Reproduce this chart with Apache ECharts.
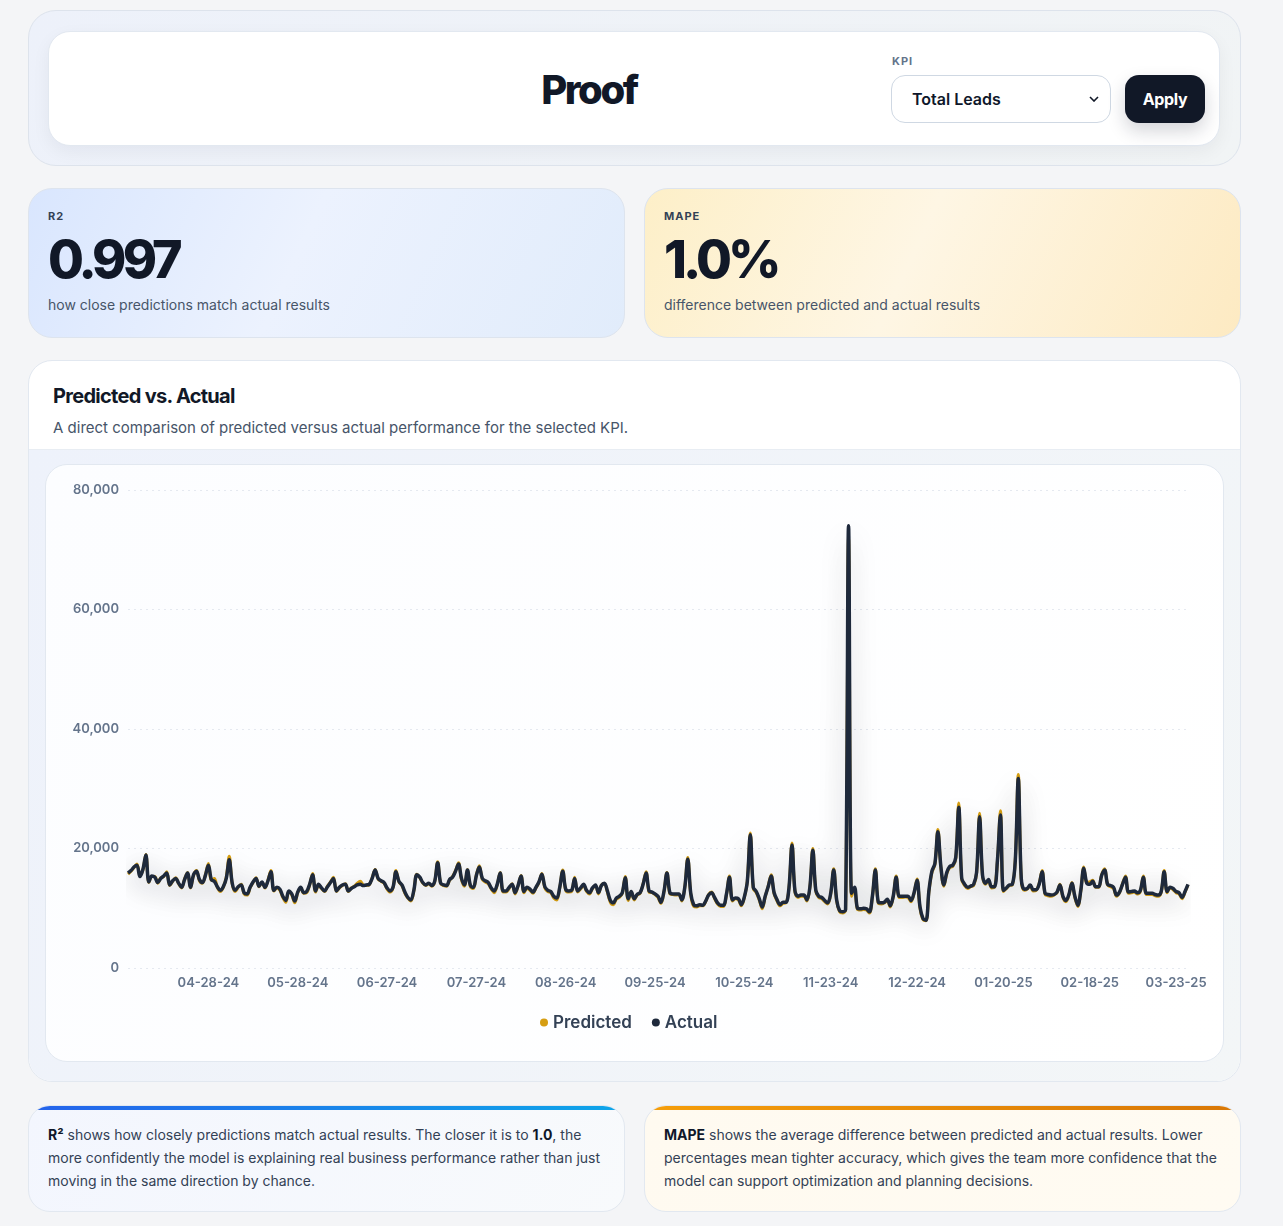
<!DOCTYPE html>
<html>
<head>
<meta charset="utf-8">
<title>Proof</title>
<script src="https://cdn.jsdelivr.net/npm/echarts@6/dist/echarts.min.js"></script>
<style>
* { box-sizing: border-box; }
body {
    margin: 0;
    background: #f4f5f7;
    font-family: Inter, "Noto Sans", sans-serif;
    color: #0f172a;
}
.page {
    width: 1213px;
    margin-left: 28px;
    padding-top: 10px;
}
.hero {
    height: 156px;
    border: 1px solid #dde3ec;
    border-radius: 28px;
    background: linear-gradient(120deg, #edf1fa, #f1f4f5);
    padding: 20px 20px 19px 19px;
}
.hero-inner {
    position: relative;
    height: 115px;
    background: #fff;
    border: 1px solid #e2e8f0;
    border-radius: 22px;
    box-shadow: 0 6px 18px rgba(15, 23, 42, 0.05);
}
.hero h1 {
    position: absolute;
    left: 0;
    width: 1080px;
    top: 38px;
    margin: 0;
    text-align: center;
    font-size: 40px;
    line-height: 40px;
    font-weight: 800;
    letter-spacing: -0.06em;
    color: #111827;
}
.kpi-label {
    position: absolute;
    left: 843px;
    top: 22px;
    font-size: 11px;
    font-weight: 700;
    letter-spacing: 1px;
    color: #64748b;
}
.hero select {
    position: absolute;
    left: 842px;
    top: 43px;
    width: 220px;
    height: 48px;
    border: 1px solid #cfd8e3;
    border-radius: 14px;
    background: #fff url("data:image/svg+xml;utf8,<svg xmlns='http://www.w3.org/2000/svg' width='10' height='6'><path d='M1 1l4 4 4-4' fill='none' stroke='%23111827' stroke-width='1.6'/></svg>") no-repeat right 11px center;
    -webkit-appearance: none;
    appearance: none;
    padding-left: 20px;
    font-family: Inter, sans-serif;
    font-size: 16px;
    font-weight: 600;
    color: #0f172a;
}
.hero button {
    position: absolute;
    left: 1076px;
    top: 43px;
    width: 80px;
    height: 48px;
    border: 0;
    border-radius: 14px;
    background: #111827;
    color: #fff;
    font-family: Inter, sans-serif;
    font-size: 16px;
    font-weight: 700;
    letter-spacing: -0.02em;
    box-shadow: 0 8px 18px rgba(15, 23, 42, 0.18);
}
.row {
    display: flex;
    gap: 19px;
}
.kpi {
    flex: 1;
    height: 150px;
    margin-top: 22px;
    border: 1px solid #dde4ee;
    border-radius: 24px;
    padding: 20px 19px 0 19px;
}
.kpi.blue { background: linear-gradient(115deg, #d9e6fe 0%, #ecf2fe 45%, #e1ecfb 100%); }
.kpi.gold { background: linear-gradient(115deg, #fdefc8 0%, #fef6e4 45%, #fdeac2 100%); }
.kpi .lab {
    font-size: 11px;
    line-height: 14px;
    font-weight: 700;
    letter-spacing: 1px;
    color: #334155;
}
.kpi .val {
    margin-top: 10px;
    font-size: 52px;
    line-height: 54px;
    font-weight: 800;
    letter-spacing: -0.075em;
    color: #111827;
}
.kpi .sub {
    margin-top: 8px;
    font-size: 14px;
    line-height: 20px;
    color: #475569;
}
.chart-card {
    height: 722px;
    margin-top: 22px;
    background: #fff;
    border: 1px solid #e2e8f0;
    border-radius: 24px;
    overflow: hidden;
}
.chart-head {
    height: 89px;
    padding: 23px 24px 0 24px;
    border-bottom: 1px solid #e8edf3;
}
.chart-head h2 {
    margin: 0;
    font-size: 20px;
    line-height: 24px;
    font-weight: 700;
    letter-spacing: -0.035em;
    color: #111827;
}
.chart-head p {
    margin: 10px 0 0 0;
    font-size: 15px;
    line-height: 20px;
    color: #475569;
}
.chart-body {
    height: 632px;
    padding: 14px 16px 0 16px;
    background: linear-gradient(120deg, #eef2fb, #f3f6f7);
}
#main {
    width: 1179px;
    height: 598px;
    border: 1px solid #e2e8f0;
    border-radius: 22px;
    background: linear-gradient(120deg, #fcfdff, #ffffff);
    overflow: hidden;
}
.note {
    position: relative;
    flex: 1;
    height: 107px;
    margin-top: 23px;
    border: 1px solid #e2e8f0;
    border-radius: 22px;
    overflow: hidden;
    padding: 17px 20px 0 19px;
    font-size: 14px;
    line-height: 23px;
    color: #334155;
}
.note::before {
    content: "";
    position: absolute;
    left: 0; right: 0; top: 0;
    height: 4px;
}
.note.blue { background: linear-gradient(120deg, #f3f6fe, #f8fafc); }
.note.blue::before { background: linear-gradient(90deg, #2563eb, #0ea5e9); }
.note.gold { background: linear-gradient(120deg, #fffaf0, #fffbf2); }
.note.gold::before { background: linear-gradient(90deg, #f59e0b, #d97706); }
.note b { color: #0f172a; font-weight: 700; }
</style>
</head>
<body>
<div class="page">
    <div class="hero">
        <div class="hero-inner">
            <h1>Proof</h1>
            <div class="kpi-label">KPI</div>
            <select><option>Total Leads</option></select>
            <button>Apply</button>
        </div>
    </div>

    <div class="row">
        <div class="kpi blue">
            <div class="lab">R2</div>
            <div class="val">0.997</div>
            <div class="sub">how close predictions match actual results</div>
        </div>
        <div class="kpi gold">
            <div class="lab">MAPE</div>
            <div class="val">1.0%</div>
            <div class="sub">difference between predicted and actual results</div>
        </div>
    </div>

    <div class="chart-card">
        <div class="chart-head">
            <h2>Predicted vs. Actual</h2>
            <p>A direct comparison of predicted versus actual performance for the selected KPI.</p>
        </div>
        <div class="chart-body">
            <div id="main"></div>
        </div>
    </div>

    <div class="row">
        <div class="note blue">
            <b>R²</b> shows how closely predictions match actual results. The closer it is to <b>1.0</b>, the more confidently the model is explaining real business performance rather than just moving in the same direction by chance.
        </div>
        <div class="note gold">
            <b>MAPE</b> shows the average difference between predicted and actual results. Lower percentages mean tighter accuracy, which gives the team more confidence that the model can support optimization and planning decisions.
        </div>
    </div>
</div>

<script>
// daily series, first day 04-01-24, a few days missing in the data
const skippedDates = ['02-25-25', '03-04-25', '03-11-25', '03-18-25']
const xTickLabels = ['04-28-24', '05-28-24', '06-27-24', '07-27-24', '08-26-24', '09-25-24',
    '10-25-24', '11-23-24', '12-22-24', '01-20-25', '02-18-25', '03-23-25']

const actual = [
    15900, 16300, 16900, 17200, 15300, 16500, 18900, 14400, 15400, 15200,
    14300, 15000, 15400, 15900, 13900, 14600, 15000, 14200, 13500, 14800,
    15900, 13500, 15600, 16200, 14800, 14300, 15500, 17200, 14800, 14500,
    13600, 13000, 13600, 15000, 18100, 14200, 13000, 13600, 13900, 12600,
    12400, 13500, 14400, 15000, 13700, 14400, 13500, 14600, 16100, 13000,
    13500, 13200, 12000, 11300, 12900, 12400, 11200, 12700, 13500, 12600,
    12800, 14000, 15600, 12900, 14000, 13400, 12900, 13600, 14300, 15000,
    12900, 13500, 13900, 14000, 12900, 13300, 13600, 13900, 14000, 13800,
    13900, 14000, 15000, 16400, 15000, 14600, 14300, 13400, 12900, 13500,
    16100, 14500, 13900, 12700, 11800, 11400, 13000, 15600, 15200, 14300,
    13900, 14200, 13800, 14500, 17600, 14200, 13900, 13800, 14800, 15200,
    16200, 17400, 15000, 13900, 16400, 13800, 13500, 15500, 16900, 15000,
    14600, 14300, 13400, 12900, 14000, 15900, 12900, 12900, 13500, 14000,
    12600, 13800, 15400, 12800, 13500, 13200, 12700, 13500, 14400, 15700,
    13600, 13000, 12800, 12000, 11700, 13500, 16200, 13200, 12900, 13000,
    15000, 12900, 13400, 14000, 13000, 12600, 13400, 13900, 12600, 13800,
    14200, 12900, 11300, 10900, 11700, 12000, 12600, 15100, 11600, 12800,
    11600, 12300, 12600, 14000, 15900, 12900, 12700, 12400, 12000, 11000,
    12800, 15900, 12600, 12400, 12400, 12400, 11400, 13500, 18200, 12500,
    10600, 10400, 10600, 10500, 11200, 12200, 12600, 11800, 10900, 10500,
    10500, 12400, 15200, 11400, 11700, 11600, 10600, 11900, 14500, 22300,
    13500, 12800, 11600, 10200, 12000, 13600, 15400, 12600, 11400, 10600,
    11000, 11000, 13500, 20600, 12900, 12000, 12200, 12200, 11400, 13500,
    19700, 13000, 12000, 11800, 11300, 10900, 12500, 16400, 11400, 9600,
    9400, 9800, 74000, 12500, 13500, 10000, 9900, 10000, 9900, 9400,
    12000, 16400, 11000, 10900, 11000, 11500, 10400, 12000, 15200, 12000,
    12000, 12000, 12000, 11300, 12600, 14700, 10200, 8300, 8000, 13000,
    16200, 17500, 22800, 17000, 13900, 16000, 17000, 17200, 18500, 26900,
    15000, 14000, 13500, 13700, 14000, 16000, 25300, 15500, 14200, 14800,
    13600, 13600, 18000, 25600, 13000, 13400, 13900, 14000, 18000, 31700,
    15000, 13200, 13300, 13900, 13100, 13100, 14000, 16100, 12500, 12300,
    12200, 12300, 12700, 13900, 12000, 11300, 12300, 14200, 12000, 10500,
    13000, 16700, 14200, 14000, 14500, 13600, 13600, 15500, 16400, 14000,
    13800, 13500, 12200, 12700, 14000, 15200, 12700, 12800, 12900, 12600,
    13000, 15200, 12500, 12500, 12500, 12300, 12200, 12800, 16100, 12800,
    13500, 13300, 12800, 12600, 11800, 12800, 14000
]

const predicted = [
    15700, 16200, 16800, 17400, 15500, 16400, 19000, 14300, 15300, 15300,
    14200, 15100, 15300, 16100, 13800, 14500, 15100, 14100, 13400, 14900,
    16000, 13400, 15500, 16300, 14600, 14200, 15600, 17500, 14700, 15000,
    13500, 12800, 13500, 15200, 18700, 14100, 12800, 13500, 14000, 12400,
    12200, 13400, 14300, 15100, 13600, 14300, 13400, 14700, 16300, 12900,
    13400, 13000, 11800, 11000, 12800, 12200, 10900, 12600, 13400, 12500,
    12600, 13900, 15800, 12700, 13900, 13300, 12800, 13700, 14400, 15200,
    12800, 13400, 13800, 14100, 12800, 13400, 13700, 14200, 14500, 13900,
    13800, 13900, 15100, 16500, 14900, 14500, 14200, 13200, 12700, 13400,
    16300, 14400, 13800, 12500, 11700, 11200, 12900, 15700, 15100, 14200,
    13800, 14100, 13700, 14400, 17800, 14100, 13800, 13700, 14700, 15300,
    16300, 17600, 14800, 13700, 16500, 13600, 13300, 15600, 17100, 14800,
    14400, 14100, 13200, 12600, 13900, 16000, 12700, 12700, 13300, 14100,
    12400, 13700, 15500, 12600, 13300, 13000, 12500, 13400, 14300, 15800,
    13400, 12800, 12600, 11700, 11400, 13400, 16400, 13000, 12700, 12800,
    15200, 12700, 13200, 13900, 12800, 12400, 13300, 13800, 12400, 13900,
    14100, 12700, 11000, 10600, 11500, 11800, 12500, 15300, 11300, 12700,
    11400, 12200, 12500, 14100, 16100, 12700, 12600, 12300, 11800, 10800,
    12700, 16000, 12400, 12300, 12200, 12300, 11200, 13500, 18500, 12300,
    10300, 10200, 10400, 10400, 11100, 12300, 12700, 11600, 10700, 10300,
    10300, 12300, 15400, 11200, 11600, 11400, 10400, 11800, 14600, 22600,
    13300, 12600, 11400, 9900, 11900, 13700, 15600, 12400, 11200, 10400,
    10800, 10900, 13400, 20900, 12700, 11800, 12000, 12000, 11200, 13400,
    20000, 12800, 11800, 11600, 11100, 10700, 12400, 16600, 11200, 9400,
    9200, 9700, 72000, 12000, 13300, 9800, 9700, 9800, 9700, 9200,
    11900, 16600, 10800, 10700, 10900, 11300, 10200, 11900, 15400, 11800,
    11800, 11900, 11800, 11100, 12500, 14900, 10000, 8100, 7900, 12800,
    16000, 17300, 23200, 16800, 13700, 15800, 16800, 17000, 18300, 27600,
    14800, 13800, 13300, 13600, 13800, 15900, 25900, 15300, 14000, 14700,
    13400, 13500, 17900, 26300, 12800, 13300, 13800, 13900, 18100, 32400,
    14800, 13000, 13200, 13800, 12900, 13000, 14100, 16300, 12300, 12100,
    12000, 12200, 12600, 14000, 11800, 11100, 12200, 14300, 11800, 10300,
    12900, 16900, 14300, 14400, 14700, 13500, 13500, 15600, 16600, 13900,
    13600, 13300, 12000, 12600, 14100, 15400, 12500, 12600, 12700, 12400,
    12800, 15400, 12300, 12300, 12300, 12100, 12000, 12700, 16300, 12600,
    13400, 13100, 12600, 12400, 11600, 12700, 13900
]

// build date labels MM-DD-YY
function fmt(d) {
    const p = n => String(n).padStart(2, '0')
    return p(d.getMonth() + 1) + '-' + p(d.getDate()) + '-' + p(d.getFullYear() % 100)
}
const dates = []
const day = new Date(2024, 3, 1)
while (dates.length < actual.length) {
    const s = fmt(day)
    if (!skippedDates.includes(s)) dates.push(s)
    day.setDate(day.getDate() + 1)
}

const myChart = echarts.init(document.getElementById('main'))

const lineShadow = {
    shadowColor: 'rgba(15, 23, 42, 0.16)',
    shadowBlur: 28,
    shadowOffsetY: 8
}

const option = {
    animation: false,
    textStyle: { fontFamily: 'Inter' },
    grid: { left: 82, right: 35, top: 25, bottom: 93 },
    legend: {
        top: 544,
        left: 489,
        icon: 'circle',
        itemWidth: 8,
        itemHeight: 8,
        itemGap: 20,
        textStyle: { fontSize: 17, fontWeight: 600, color: '#334155', fontFamily: 'Inter' },
        data: ['Predicted', 'Actual']
    },
    tooltip: { trigger: 'axis' },
    xAxis: {
        type: 'category',
        boundaryGap: false,
        data: dates,
        axisLine: { show: false },
        axisTick: { show: false },
        axisLabel: {
            interval: (idx, val) => xTickLabels.includes(val),
            color: '#64748b',
            fontSize: 13,
            fontWeight: 600,
            margin: 9
        }
    },
    yAxis: {
        type: 'value',
        min: 0,
        max: 80000,
        interval: 20000,
        axisLine: { show: false },
        axisTick: { show: false },
        axisLabel: {
            formatter: v => v.toLocaleString('en-US'),
            color: '#64748b',
            fontSize: 13,
            fontWeight: 600,
            margin: 9
        },
        splitLine: { lineStyle: { color: '#e5e9f0', type: [2, 4] } }
    },
    series: [
        {
            name: 'Predicted',
            type: 'line',
            data: predicted,
            smooth: 0.35,
            symbol: 'none',
            color: '#d69e12',
            lineStyle: { width: 3, color: '#d69e12', ...lineShadow }
        },
        {
            name: 'Actual',
            type: 'line',
            data: actual,
            smooth: 0.35,
            symbol: 'none',
            color: '#1e293b',
            lineStyle: { width: 3.5, color: '#1e293b', ...lineShadow }
        }
    ]
}

myChart.setOption(option)
</script>
</body>
</html>
